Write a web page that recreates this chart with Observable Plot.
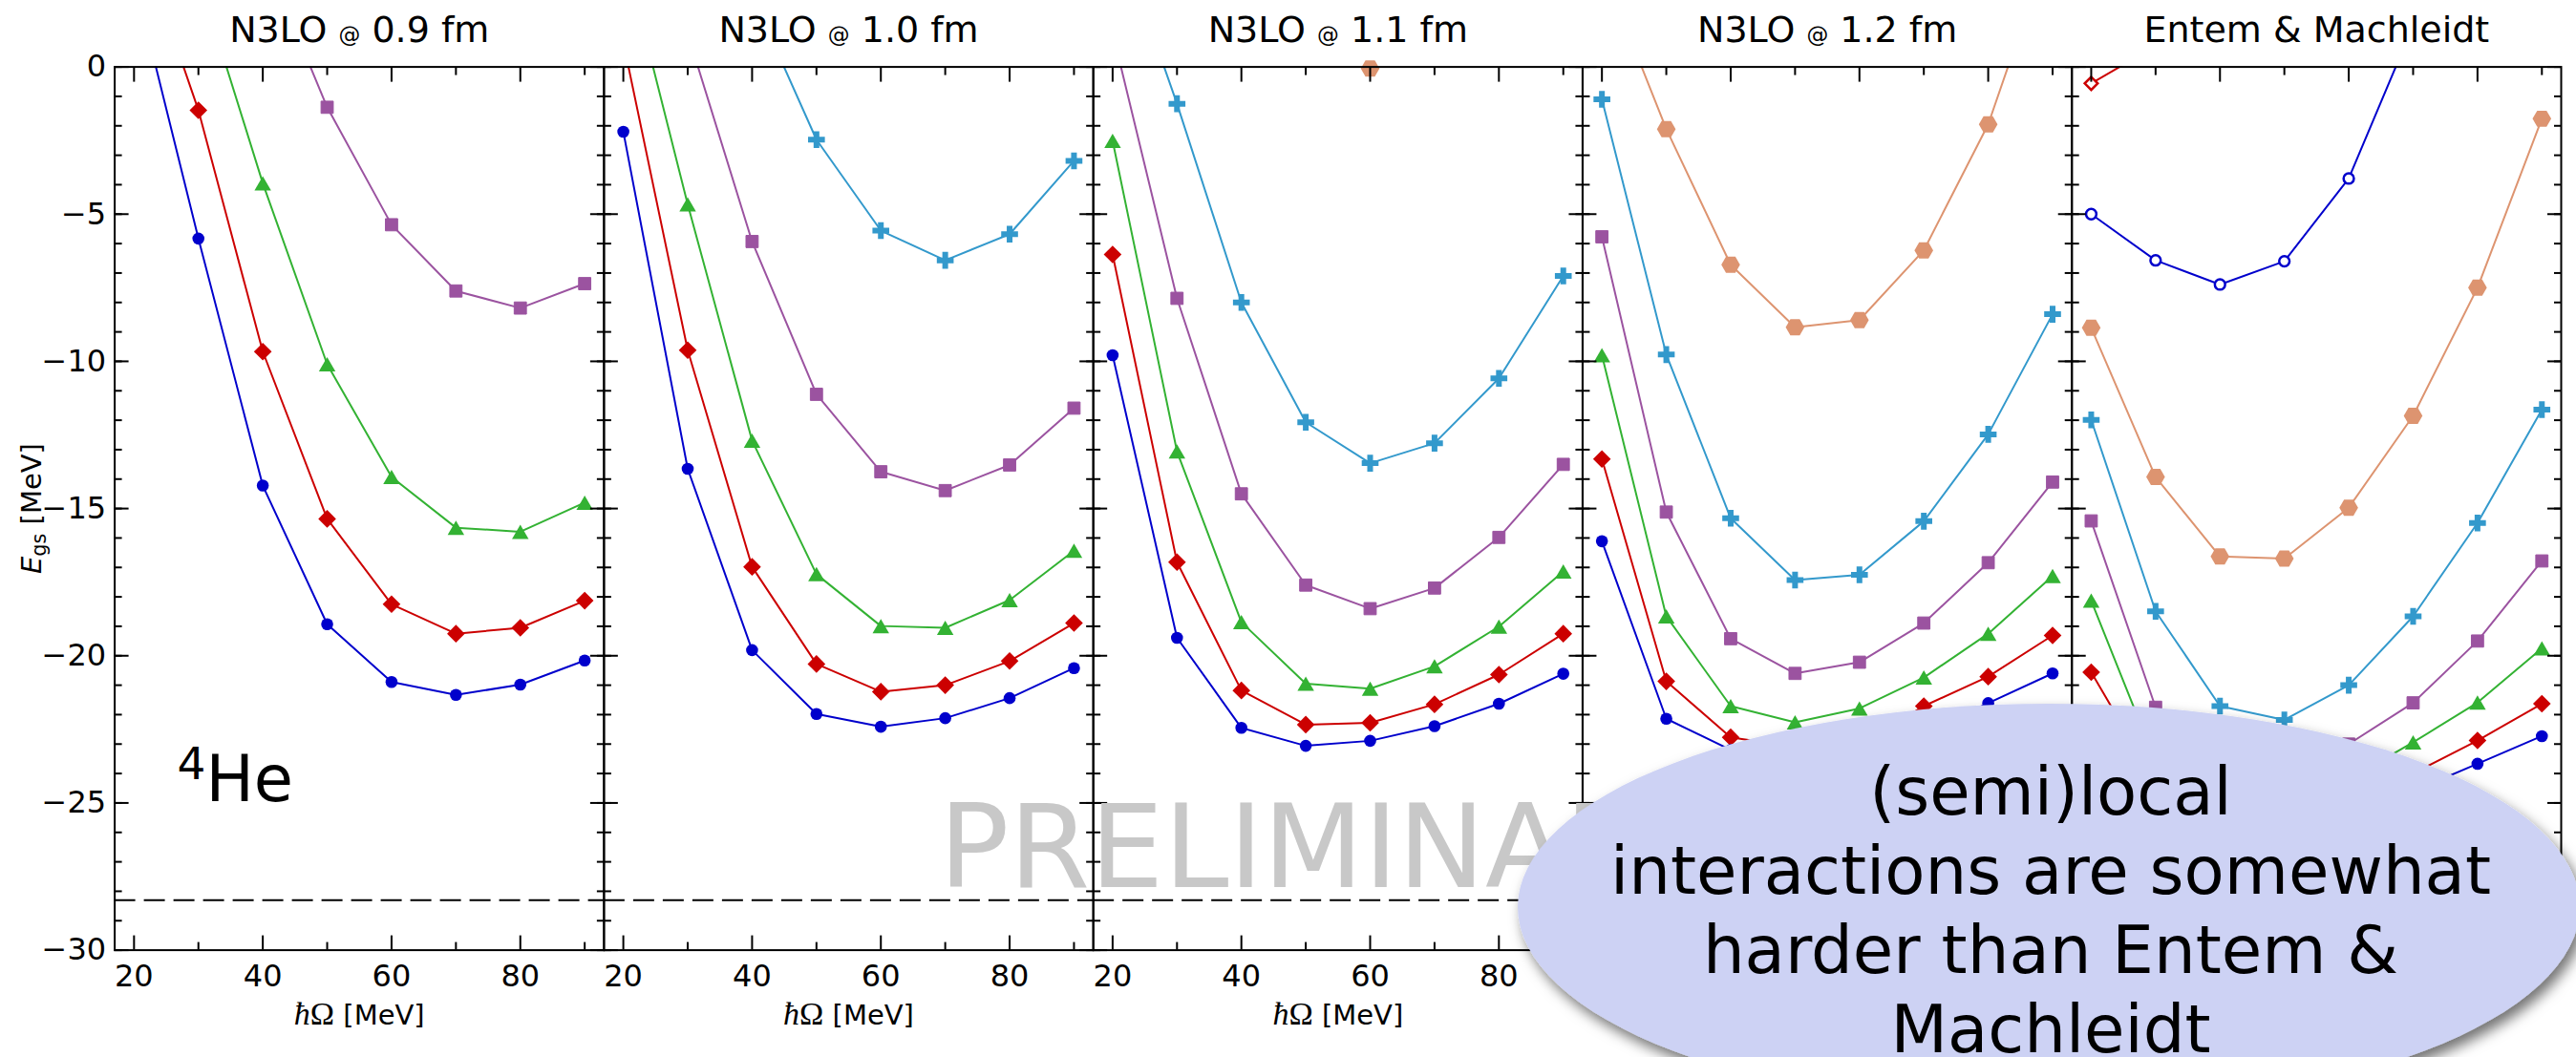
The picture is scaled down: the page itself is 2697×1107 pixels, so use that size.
<!DOCTYPE html>
<html>
<head>
<meta charset="utf-8">
<script src="https://cdn.jsdelivr.net/npm/d3@7"></script>
<script src="https://cdn.jsdelivr.net/npm/@observablehq/plot@0.6"></script>
<style>
html, body { margin: 0; padding: 0; background: #fff; overflow: hidden; }
</style>
</head>
<body>
<div id="chart"></div>
<script>
// ---------- data ----------
const panels = ["N3LO @ 0.9 fm", "N3LO @ 1.0 fm", "N3LO @ 1.1 fm", "N3LO @ 1.2 fm", "Entem & Machleidt"];
const hw = [20, 30, 40, 50, 60, 70, 80, 90];           // hbar*Omega [MeV]
const expEnergy = [-28.3];                              // experimental 4He ground-state energy
const xTicksMajor = [20, 40, 60, 80];
const xTicksMinor = [30, 50, 70, 90];
const yTicksMajor = [0, -5, -10, -15, -20, -25, -30];
const yTicksMinor = d3.range(-30, 1, 1);

// N3LO @ 0.9 fm
const p09_blue   = [3.0, -5.83, -14.22, -18.93, -20.89, -21.33, -20.98, -20.16];
const p09_red    = [4.9, -1.47, -9.67, -15.35, -18.25, -19.25, -19.05, -18.13];
const p09_green  = [null, 3.05, -3.95, -10.1, -13.93, -15.65, -15.79, -14.8];
const p09_purple = [null, null, 3.9, -1.37, -5.36, -7.61, -8.19, -7.36];
// N3LO @ 1.0 fm
const p10_blue   = [-2.2, -13.65, -19.81, -21.98, -22.41, -22.12, -21.44, -20.42];
const p10_red    = [0.84, -9.62, -16.98, -20.28, -21.22, -21.0, -20.18, -18.89];
const p10_green  = [4.0, -4.67, -12.69, -17.23, -18.99, -19.05, -18.11, -16.43];
const p10_purple = [null, 1.13, -5.93, -11.12, -13.75, -14.39, -13.52, -11.59];
const p10_cyan   = [null, null, 2.43, -2.47, -5.56, -6.57, -5.68, -3.19];
// N3LO @ 1.1 fm
const p11_blue   = [-9.79, -19.39, -22.45, -23.06, -22.89, -22.39, -21.63, -20.61];
const p11_red    = [-6.37, -16.82, -21.18, -22.34, -22.28, -21.65, -20.64, -19.25];
const p11_green  = [-2.51, -13.06, -18.86, -20.95, -21.12, -20.36, -19.01, -17.14];
const p11_purple = [1.17, -7.86, -14.5, -17.6, -18.4, -17.7, -15.98, -13.5];
const p11_cyan   = [5.0, -1.25, -8.0, -12.07, -13.46, -12.78, -10.58, -7.1];
const p11_orange = [null, null, null, null, -0.05, null, null, null];
// N3LO @ 1.2 fm
const p12_blue   = [-16.11, -22.14, -23.2, -23.5, -23.3, -22.6, -21.61, -20.6];
const p12_red    = [-13.32, -20.87, -22.77, -23.1, -23.0, -21.71, -20.71, -19.31];
const p12_green  = [-9.79, -18.66, -21.71, -22.26, -21.79, -20.74, -19.25, -17.29];
const p12_purple = [-5.77, -15.12, -19.42, -20.6, -20.22, -18.89, -16.84, -14.1];
const p12_cyan   = [-1.1, -9.77, -15.33, -17.43, -17.25, -15.43, -12.48, -8.4];
const p12_orange = [3.4, -2.11, -6.72, -8.84, -8.6, -6.23, -1.95, 4.4];
// Entem & Machleidt
const em_blueOpen = [-5.0, -6.57, -7.39, -6.6, -3.79, 1.4, null, null];
const em_redOpen  = [-0.56, 0.71, null, null, null, null, null, null];
const em_orange   = [-8.86, -13.93, -16.63, -16.7, -14.97, -11.85, -7.5, -1.76];
const em_cyan     = [-11.99, -18.49, -21.71, -22.18, -21.0, -18.66, -15.49, -11.64];
const em_purple   = [-15.42, -21.75, -23.8, -23.9, -23.0, -21.6, -19.5, -16.78];
const em_green    = [-18.13, -23.6, -24.7, -24.9, -24.2, -22.94, -21.59, -19.75];
const em_red      = [-20.56, -24.3, -25.0, -25.2, -24.8, -24.0, -22.88, -21.63];
const em_blue     = [-23.0, -25.5, -26.0, -26.1, -25.6, -24.6, -23.67, -22.73];

const calloutLines = ["(semi)local", "interactions are somewhat", "harder than Entem &", "Machleidt"];

// ---------- table ----------
const panelSeries = [
  [panels[0], {b: p09_blue, r: p09_red, g: p09_green, p: p09_purple}],
  [panels[1], {b: p10_blue, r: p10_red, g: p10_green, p: p10_purple, c: p10_cyan}],
  [panels[2], {b: p11_blue, r: p11_red, g: p11_green, p: p11_purple, c: p11_cyan, o: p11_orange}],
  [panels[3], {b: p12_blue, r: p12_red, g: p12_green, p: p12_purple, c: p12_cyan, o: p12_orange}],
  [panels[4], {bo: em_blueOpen, ro: em_redOpen, o: em_orange, c: em_cyan, p: em_purple, g: em_green, r: em_red, b: em_blue}]
];
const rows = [];
for (const [panel, series] of panelSeries) {
  for (const [s, vals] of Object.entries(series)) {
    vals.forEach((v, i) => { if (v != null) rows.push({panel, series: s, hw: hw[i], e: v}); });
  }
}

// ---------- styles ----------
const seriesKeys   = ["b", "r", "g", "p", "c", "o", "bo", "ro"];
const seriesColors = ["#0000cc", "#cc0000", "#33b233", "#9b53a0", "#3399cc", "#dd9470", "#0000cc", "#cc0000"];
const col = Object.fromEntries(seriesKeys.map((k, i) => [k, seriesColors[i]]));

const symCircle = (R) => ({draw(c) { c.moveTo(R, 0); c.arc(0, 0, R, 0, 2 * Math.PI); }});
const symDiamond = (h) => ({draw(c) { c.moveTo(0, -h); c.lineTo(h, 0); c.lineTo(0, h); c.lineTo(-h, 0); c.closePath(); }});
const symSquare = (h) => ({draw(c) { c.moveTo(-h, -h); c.lineTo(h, -h); c.lineTo(h, h); c.lineTo(-h, h); c.closePath(); }});
const symTriangle = (w, h) => ({draw(c) { c.moveTo(0, -h); c.lineTo(w, h); c.lineTo(-w, h); c.closePath(); }});
const symCross = (a, t) => ({draw(c) {
  c.moveTo(-t, -a); c.lineTo(t, -a); c.lineTo(t, -t); c.lineTo(a, -t); c.lineTo(a, t); c.lineTo(t, t);
  c.lineTo(t, a); c.lineTo(-t, a); c.lineTo(-t, t); c.lineTo(-a, t); c.lineTo(-a, -t); c.lineTo(-t, -t); c.closePath();
}});
const symHex = (R) => ({draw(c) {
  for (let i = 0; i < 6; i++) { const a = i * Math.PI / 3; const x = R * Math.cos(a), y = R * Math.sin(a); if (i) c.lineTo(x, y); else c.moveTo(x, y); }
  c.closePath();
}});

const dotStyles = {
  b:  {symbol: symCircle(6.3), fill: col.b, stroke: "none", strokeWidth: 0},
  r:  {symbol: symDiamond(9.3), fill: col.r, stroke: "none", strokeWidth: 0},
  g:  {symbol: symTriangle(8.7, 7.5), fill: col.g, stroke: "none", strokeWidth: 0},
  p:  {symbol: symSquare(6.4), fill: col.p, stroke: col.p, strokeWidth: 1},
  c:  {symbol: symCross(8.8, 3), fill: col.c, stroke: "none", strokeWidth: 0},
  o:  {symbol: symHex(9.8), fill: col.o, stroke: "none", strokeWidth: 0},
  bo: {symbol: symCircle(5.4), fill: "white", stroke: col.bo, strokeWidth: 2.5},
  ro: {symbol: symDiamond(6.8), fill: "white", stroke: col.ro, strokeWidth: 2.5}
};
const dotOrder = ["o", "c", "p", "g", "r", "b", "bo", "ro"];

const tk = {stroke: "black", strokeWidth: 2, fill: "none", label: null};

const chart = Plot.plot({
  width: 2697,
  height: 1107,
  marginTop: 69.6,
  marginBottom: 112.4,
  marginLeft: 119.6,
  marginRight: 16,
  style: {fontFamily: "'DejaVu Sans', sans-serif", background: "white", color: "black"},
  fx: {domain: panels, padding: 0, round: false, axis: null},
  x: {domain: [17, 93], axis: null},
  y: {domain: [-30, 0], axis: null},
  color: {domain: seriesKeys, range: seriesColors},
  marks: [
    Plot.ruleY(expEnergy, {stroke: "black", strokeWidth: 2, strokeDasharray: "22,9"}),
    Plot.line(rows, {fx: "panel", x: "hw", y: "e", z: "series", stroke: "series", strokeWidth: 2, clip: true}),
    ...dotOrder.map(k => Plot.dot(rows.filter(d => d.series === k && d.e >= -30 && d.e <= 0.3), {
      fx: "panel", x: "hw", y: "e", r: 5,
      symbol: dotStyles[k].symbol, fill: dotStyles[k].fill, stroke: dotStyles[k].stroke, strokeWidth: dotStyles[k].strokeWidth
    })),
    Plot.frame({stroke: "black", strokeWidth: 2}),
    // inward ticks on all four sides
    Plot.axisX({...tk, ticks: xTicksMajor, anchor: "bottom", tickSize: 15, dy: -15}),
    Plot.axisX({...tk, ticks: xTicksMinor, anchor: "bottom", tickSize: 8, dy: -8}),
    Plot.axisX({...tk, ticks: xTicksMajor, anchor: "top", tickSize: 15, dy: 15}),
    Plot.axisX({...tk, ticks: xTicksMinor, anchor: "top", tickSize: 8, dy: 8}),
    Plot.axisY({...tk, ticks: yTicksMajor, anchor: "left", tickSize: 15, dx: 15, facetAnchor: null}),
    Plot.axisY({...tk, ticks: yTicksMinor, anchor: "left", tickSize: 8, dx: 8, facetAnchor: null}),
    Plot.axisY({...tk, ticks: yTicksMajor, anchor: "right", tickSize: 15, dx: -15, facetAnchor: null}),
    Plot.axisY({...tk, ticks: yTicksMinor, anchor: "right", tickSize: 8, dx: -8, facetAnchor: null}),
    // tick labels
    Plot.axisX({ticks: xTicksMajor, anchor: "bottom", tickSize: 0, tickPadding: 15, fontSize: 32, label: null}),
    Plot.axisY({ticks: yTicksMajor, anchor: "left", tickSize: 0, tickPadding: 9, fontSize: 32, label: null}),
    // titles and labels
    Plot.text(panels, {fx: d => d, frameAnchor: "top", dy: -26, lineAnchor: "bottom", text: d => d, fontSize: 38}),
    Plot.text(panels, {fx: d => d, frameAnchor: "bottom", dy: 78, lineAnchor: "bottom", text: () => "ħΩ [MeV]", fontSize: 29}),
    Plot.text([panels[0]], {fx: d => d, frameAnchor: "left", dx: -86.6, rotate: -90, textAnchor: "middle", lineAnchor: "middle", text: () => "Egs [MeV]", fontSize: 29}),
    Plot.text([panels[0]], {fx: d => d, frameAnchor: "bottom-left", dx: 65.4, dy: -156.2, textAnchor: "start", lineAnchor: "bottom", text: () => "4He", fontSize: 67})
  ]
});
document.getElementById("chart").appendChild(chart);

// ---------- rich text post-processing (matched by content) ----------
const svg = d3.select(chart);
svg.selectAll("text").each(function () {
  const t = this.textContent;
  const s = d3.select(this);
  if (panels.includes(t) && t.includes("@")) {
    const i = t.indexOf("@");
    this.textContent = "";
    s.append("tspan").text(t.slice(0, i));
    s.append("tspan").attr("font-size", "0.6em").text("@");
    s.append("tspan").text(t.slice(i + 1));
  } else if (t === "ħΩ [MeV]") {
    this.textContent = "";
    s.append("tspan").attr("font-family", "'Liberation Serif', serif").attr("font-style", "italic").attr("font-size", 34).text("ħ");
    s.append("tspan").attr("font-family", "'Liberation Serif', serif").attr("font-size", 34).text("Ω");
    s.append("tspan").text(" [MeV]");
  } else if (t === "Egs [MeV]") {
    this.textContent = "";
    s.append("tspan").attr("font-style", "italic").text("E");
    s.append("tspan").attr("font-size", "0.72em").attr("dy", "0.25em").text("gs");
    s.append("tspan").attr("dy", "-0.18em").text(" [MeV]");
  } else if (t === "4He") {
    this.textContent = "";
    s.append("tspan").attr("font-size", 47).attr("dy", -23).text("4");
    s.append("tspan").attr("dy", 23).text("He");
  }
});

// ---------- annotations: watermark and callout ----------
const defs = svg.append("defs");
const flt = defs.append("filter").attr("id", "callout-shadow")
  .attr("x", "-10%").attr("y", "-20%").attr("width", "125%").attr("height", "150%");
flt.append("feDropShadow").attr("dx", 5).attr("dy", 8).attr("stdDeviation", 7)
  .attr("flood-color", "#000").attr("flood-opacity", 0.55);

svg.append("text")
  .attr("x", 983).attr("y", 929)
  .attr("text-anchor", "start")
  .attr("font-family", "'DejaVu Sans', sans-serif").attr("font-size", 122)
  .attr("fill", "#c8c8c8")
  .text("PRELIMINARY");

svg.append("ellipse")
  .attr("cx", 2145).attr("cy", 950).attr("rx", 556).attr("ry", 213)
  .attr("fill", "#cdd2f4")
  .attr("filter", "url(#callout-shadow)");

const ct = svg.append("text")
  .attr("text-anchor", "middle")
  .attr("font-family", "'DejaVu Sans', sans-serif").attr("font-size", 69)
  .attr("fill", "black");
calloutLines.forEach((line, i) => {
  ct.append("tspan").attr("x", 2147).attr("y", 853 + 83 * i).text(line);
});
</script>
</body>
</html>
